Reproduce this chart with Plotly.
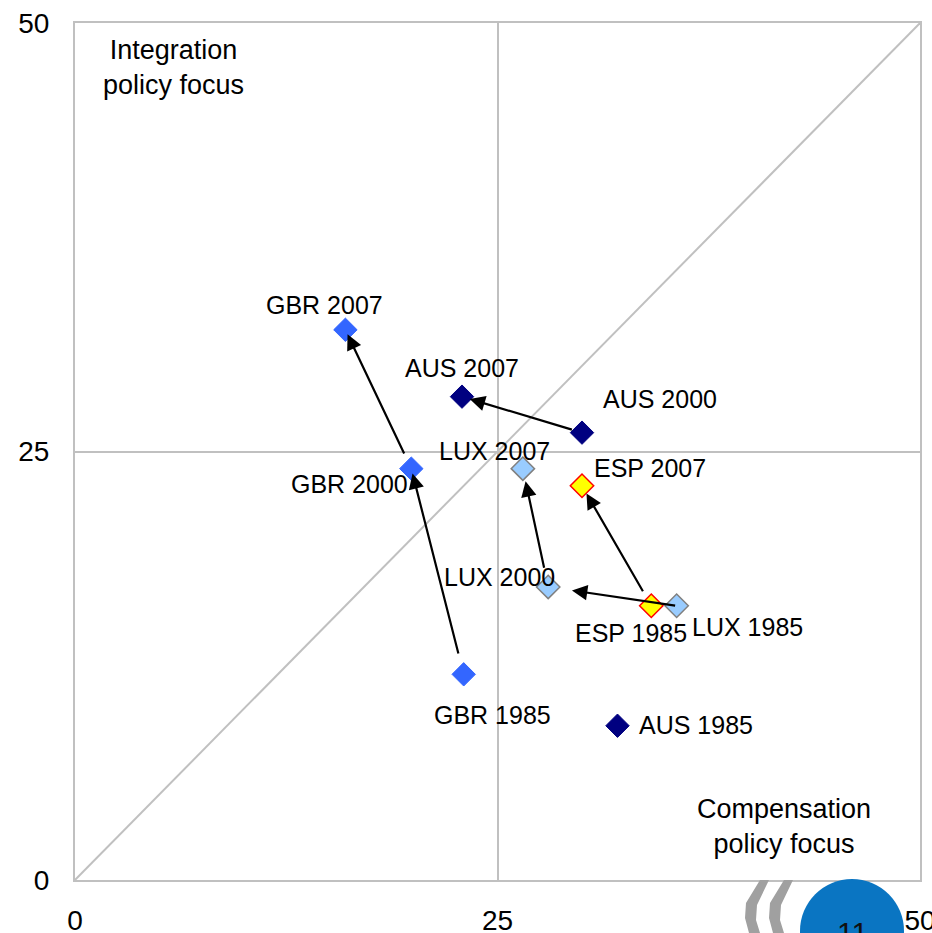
import plotly.graph_objects as go

# ---------------- data ----------------
countries = ["GBR", "AUS", "LUX", "ESP"]
gbr_years = [1985, 2000, 2007]
gbr_x = [23.0, 19.9, 16.0]
gbr_y = [12.0, 24.0, 32.1]

aus_years = [1985, 2000, 2007]
aus_x = [32.1, 30.0, 22.9]
aus_y = [9.0, 26.1, 28.2]

lux_years = [1985, 2000, 2007]
lux_x = [35.6, 28.0, 26.5]
lux_y = [16.0, 17.1, 24.0]

esp_years = [1985, 2007]
esp_x = [34.1, 30.0]
esp_y = [16.0, 23.0]

axis_ticks = [0, 25, 50]
axis_range = [0, 50]

# arrows: (country, from_index, to_index)
arrows = [("GBR", 0, 1), ("GBR", 1, 2), ("AUS", 1, 2),
          ("LUX", 0, 1), ("LUX", 1, 2), ("ESP", 0, 1)]

series = {
    "GBR": (gbr_years, gbr_x, gbr_y),
    "AUS": (aus_years, aus_x, aus_y),
    "LUX": (lux_years, lux_x, lux_y),
    "ESP": (esp_years, esp_x, esp_y),
}

# ---------------- styles ----------------
FONT = "Liberation Sans, Arial, sans-serif"
styles = {
    "GBR": dict(color="#3366FF", line=dict(color="#3366FF", width=1)),
    "AUS": dict(color="#000080", line=dict(color="#000080", width=1)),
    "LUX": dict(color="#99CCFF", line=dict(color="#808080", width=1.5)),
    "ESP": dict(color="#FFFF00", line=dict(color="#FF0000", width=1.5)),
}
# label pixel offsets (dx right, dy down) per (country, year)
label_offsets = {
    ("GBR", 2007): (-21, -25), ("GBR", 2000): (-62, 15), ("GBR", 1985): (29, 41),
    ("AUS", 2007): (0, -29), ("AUS", 2000): (78, -34), ("AUS", 1985): (79, -1),
    ("LUX", 2007): (-28, -18), ("LUX", 2000): (-49, -10), ("LUX", 1985): (71, 21),
    ("ESP", 2007): (68, -18), ("ESP", 1985): (-20, 27),
}
# arrow standoffs (start, end) in px
arrow_standoffs = [(20, 5), (15, 5), (9, 8), (0, 24), (18, 13), (15, 9)]

GRID = "#C0C0C0"

fig = go.Figure()

# diagonal reference line
fig.add_trace(go.Scatter(x=axis_range, y=axis_range, mode="lines",
                         line=dict(color=GRID, width=2), hoverinfo="skip",
                         showlegend=False))

annotations = []
for c in countries:
    yrs, xs, ys = series[c]
    fig.add_trace(go.Scatter(x=xs, y=ys, mode="markers", name=c,
                             marker=dict(symbol="diamond", size=18, **styles[c]),
                             showlegend=False))
    for yr, xv, yv in zip(yrs, xs, ys):
        dx, dy = label_offsets[(c, yr)]
        annotations.append(dict(x=xv, y=yv, xref="x", yref="y",
                                text=f"{c} {yr}", showarrow=False,
                                xanchor="center", yanchor="middle",
                                xshift=dx, yshift=-dy,
                                font=dict(family=FONT, size=25, color="#000000")))

for (c, i0, i1), (s0, s1) in zip(arrows, arrow_standoffs):
    yrs, xs, ys = series[c]
    annotations.append(dict(x=xs[i1], y=ys[i1], ax=xs[i0], ay=ys[i0],
                            xref="x", yref="y", axref="x", ayref="y",
                            text="", showarrow=True, arrowhead=2, arrowsize=1.4,
                            arrowwidth=2.2, arrowcolor="#000000",
                            standoff=s1, startstandoff=s0))


def px(xp):
    return (xp - 75) / 845


def py(yp):
    return (880 - yp) / 857


# quadrant labels
annotations.append(dict(x=px(173), y=py(67), xref="paper", yref="paper",
                        xanchor="center", yanchor="middle",
                        text="Integration<br>policy focus", showarrow=False,
                        font=dict(family=FONT, size=27, color="#000000")))
annotations.append(dict(x=px(784), y=py(826), xref="paper", yref="paper",
                        xanchor="center", yanchor="middle",
                        text="Compensation<br>policy focus", showarrow=False,
                        font=dict(family=FONT, size=27, color="#000000")))

# logo / page number (decorative)
shapes = []
for off in (0, 24):
    path = (f"M {px(760+off)} {py(880)} L {px(769+off)} {py(880)} "
            f"L {px(757+off)} {py(905)} L {px(756+off)} {py(920)} L {px(760+off)} {py(933)} "
            f"L {px(749+off)} {py(933)} L {px(745+off)} {py(918)} L {px(746+off)} {py(903)} Z")
    shapes.append(dict(type="path", path=path, xref="paper", yref="paper",
                       fillcolor="#A0A0A0", line=dict(width=0), layer="above"))
shapes.append(dict(type="circle", xref="paper", yref="paper",
                   x0=px(800), x1=px(904), y0=py(983), y1=py(879),
                   fillcolor="#0A75C2", line=dict(width=0), layer="above"))
annotations.append(dict(x=px(852), y=py(914), xref="paper", yref="paper",
                        xanchor="center", yanchor="top",
                        text="11", showarrow=False,
                        font=dict(family=FONT, size=30, color="#111111")))

axis_common = dict(range=axis_range, tickvals=axis_ticks, ticktext=[str(t) for t in axis_ticks],
                   showgrid=True, gridcolor=GRID, gridwidth=2,
                   zeroline=False, showline=True, mirror=True, linecolor=GRID, linewidth=2,
                   ticks="", tickfont=dict(family=FONT, size=28, color="#000000"),
                   ticklabeloverflow="allow", fixedrange=True)

fig.update_layout(
    width=932, height=933,
    margin=dict(l=75, r=12, t=23, b=53, autoexpand=False),
    paper_bgcolor="white", plot_bgcolor="white",
    xaxis=dict(**axis_common, ticklabelstandoff=14),
    yaxis=dict(**axis_common, ticklabelstandoff=18),
    annotations=annotations, shapes=shapes,
    showlegend=False,
)

fig.write_html("out.html", config={"displayModeBar": False},
               post_script="document.body.style.margin='0';document.body.style.padding='0';document.body.style.overflow='hidden';")
